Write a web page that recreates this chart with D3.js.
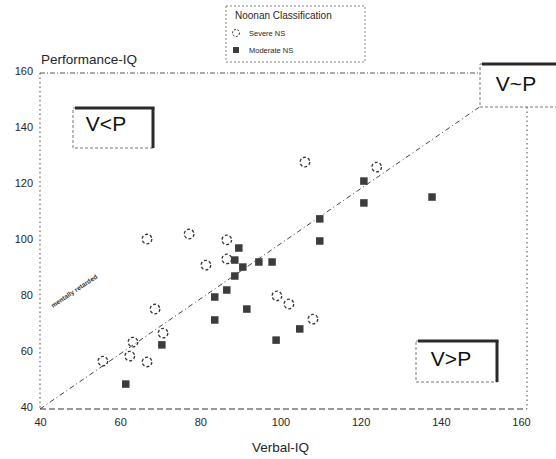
<!DOCTYPE html>
<html>
<head>
<meta charset="utf-8">
<script src="https://cdn.jsdelivr.net/npm/d3@7"></script>
<style>
  html, body { margin: 0; padding: 0; background: #fff; }
  svg { display: block; font-family: "Liberation Sans", Arial, sans-serif; }
</style>
</head>
<body>
<svg id="chart" width="556" height="459"></svg>
<script>
// ---- data ----
const xTicks = [40, 60, 80, 100, 120, 140, 160];
const yTicks = [40, 60, 80, 100, 120, 140, 160];

const severeVerbal = [106.1, 124.0, 66.7, 77.2, 86.6, 86.6, 81.4, 68.7, 70.7, 63.2, 62.4, 66.7, 55.7, 99.1, 102.1, 108.1];
const severePerf   = [128.2, 126.4, 100.7, 102.5, 100.4, 93.6, 91.4, 75.7, 67.1, 63.9, 58.9, 56.8, 57.1, 80.4, 77.5, 72.1];

const moderateVerbal = [120.8, 120.8, 109.8, 109.8, 89.6, 88.6, 90.6, 94.6, 97.9, 88.6, 86.6, 83.6, 91.6, 83.6, 70.4, 61.4, 104.8, 98.9, 137.8];
const moderatePerf   = [121.4, 113.6, 107.9, 100.0, 97.5, 93.2, 90.7, 92.5, 92.5, 87.5, 82.5, 80.0, 75.7, 71.8, 62.9, 48.9, 68.6, 64.6, 115.7];

const diagonalV = [40, 149.7];
const diagonalP = [40, 147.9];

const legendTitle = "Noonan Classification";
const seriesNames = ["Severe NS", "Moderate NS"];

// ---- drawing ----
const svg = d3.select("#chart");
const x = d3.scaleLinear().domain([40, 160]).range([40, 521]);
const y = d3.scaleLinear().domain([40, 160]).range([409, 73]);
const ink = "#262626";

// frame
svg.append("line").attr("x1", 40).attr("x2", 40).attr("y1", y(160)).attr("y2", y(40))
  .attr("stroke", "#666").attr("stroke-width", 1.2).attr("stroke-dasharray", "1.5,3");
svg.append("line").attr("x1", 40).attr("x2", 480).attr("y1", y(160)).attr("y2", y(160))
  .attr("stroke", "#555").attr("stroke-width", 1).attr("stroke-dasharray", "5,2,1,2");
svg.append("line").attr("x1", 40).attr("x2", 527).attr("y1", y(40)).attr("y2", y(40))
  .attr("stroke", "#333").attr("stroke-width", 1.2).attr("stroke-dasharray", "6,3");
svg.append("line").attr("x1", 527).attr("x2", 527).attr("y1", 107).attr("y2", y(40))
  .attr("stroke", "#666").attr("stroke-width", 1.2).attr("stroke-dasharray", "1.5,3");

// axes (labels only, via d3 axis generators)
const xAxis = svg.append("g").attr("transform", `translate(0,${y(40)})`)
  .call(d3.axisBottom(x).tickValues(xTicks).tickSize(0).tickPadding(9).tickFormat(d3.format("d")));
xAxis.select(".domain").remove();
xAxis.selectAll("text").attr("font-size", 11).attr("fill", ink).attr("font-family", "Liberation Sans, Arial, sans-serif");

const yAxis = svg.append("g").attr("transform", `translate(40,0)`)
  .call(d3.axisLeft(y).tickValues(yTicks).tickSize(0).tickPadding(7).tickFormat(d3.format("d")));
yAxis.select(".domain").remove();
yAxis.selectAll("text").attr("font-size", 11).attr("fill", ink).attr("dy", "0.15em").attr("font-family", "Liberation Sans, Arial, sans-serif");

// axis titles
svg.append("text").attr("x", 41).attr("y", 64).attr("font-size", 13.5).attr("fill", ink).text("Performance-IQ");
svg.append("text").attr("x", x(100)).attr("y", 452).attr("text-anchor", "middle").attr("font-size", 13.5).attr("fill", ink).text("Verbal-IQ");

// diagonal V = P line
svg.append("line")
  .attr("x1", x(diagonalV[0])).attr("y1", y(diagonalP[0]))
  .attr("x2", x(diagonalV[1])).attr("y2", y(diagonalP[1]))
  .attr("stroke", "#444").attr("stroke-width", 1).attr("stroke-dasharray", "5,3,1,3");

// "mentally retarded" label
svg.append("text").attr("transform", "translate(53,308) rotate(-34)")
  .attr("font-size", 6.5).attr("font-weight", "bold").attr("fill", "#333").text("mentally retarded");

// region boxes
function regionBox(x0, y0, w, h, label, fs, showRight) {
  const g = svg.append("g");
  g.append("rect").attr("x", x0).attr("y", y0).attr("width", w).attr("height", h)
    .attr("fill", "#fff").attr("stroke", "#777").attr("stroke-width", 1).attr("stroke-dasharray", "3,2");
  g.append("line").attr("x1", x0 + 2).attr("x2", x0 + w + 1.5).attr("y1", y0).attr("y2", y0)
    .attr("stroke", "#2a2a2a").attr("stroke-width", 3);
  if (showRight) {
    g.append("line").attr("x1", x0 + w).attr("x2", x0 + w).attr("y1", y0).attr("y2", y0 + h)
      .attr("stroke", "#2a2a2a").attr("stroke-width", 3);
  }
  return g;
}
regionBox(73, 108, 80, 40, "V<P", 21, true);
svg.append("text").attr("x", 106).attr("y", 131).attr("text-anchor", "middle").attr("font-size", 21).attr("fill", "#111").text("V<P");

regionBox(416, 341, 81, 41, "V>P", 21, true);
svg.append("text").attr("x", 451).attr("y", 366).attr("text-anchor", "middle").attr("font-size", 21).attr("fill", "#111").text("V>P");

regionBox(480, 64, 80, 43, "V~P", 21, false);
svg.append("text").attr("x", 516).attr("y", 91).attr("text-anchor", "middle").attr("font-size", 21).attr("fill", "#111").text("V~P");

// points
const severe = severeVerbal.map((v, i) => ({ v, p: severePerf[i] }));
const moderate = moderateVerbal.map((v, i) => ({ v, p: moderatePerf[i] }));

svg.append("g").selectAll("circle").data(severe).join("circle")
  .attr("cx", d => x(d.v)).attr("cy", d => y(d.p)).attr("r", 4.8)
  .attr("fill", "none").attr("stroke", "#333").attr("stroke-width", 1.3).attr("stroke-dasharray", "3,2");

const sq = 7.5;
svg.append("g").selectAll("rect").data(moderate).join("rect")
  .attr("x", d => x(d.v) - sq / 2).attr("y", d => y(d.p) - sq / 2)
  .attr("width", sq).attr("height", sq).attr("fill", "#3c3c3c");

// legend
const lg = svg.append("g");
lg.append("rect").attr("x", 226).attr("y", 6).attr("width", 139).attr("height", 56)
  .attr("fill", "#fff").attr("stroke", "#888").attr("stroke-width", 1).attr("stroke-dasharray", "2,2");
lg.append("text").attr("x", 235).attr("y", 19).attr("font-size", 10).attr("fill", ink).text(legendTitle);
lg.append("circle").attr("cx", 236).attr("cy", 33).attr("r", 3.5)
  .attr("fill", "none").attr("stroke", "#333").attr("stroke-width", 1).attr("stroke-dasharray", "2,1.5");
lg.append("text").attr("x", 249).attr("y", 36).attr("font-size", 7.5).attr("fill", ink).text(seriesNames[0]);
lg.append("rect").attr("x", 233).attr("y", 47).attr("width", 6).attr("height", 6).attr("fill", "#3c3c3c");
lg.append("text").attr("x", 249).attr("y", 53).attr("font-size", 7.5).attr("fill", ink).text(seriesNames[1]);
</script>
</body>
</html>
